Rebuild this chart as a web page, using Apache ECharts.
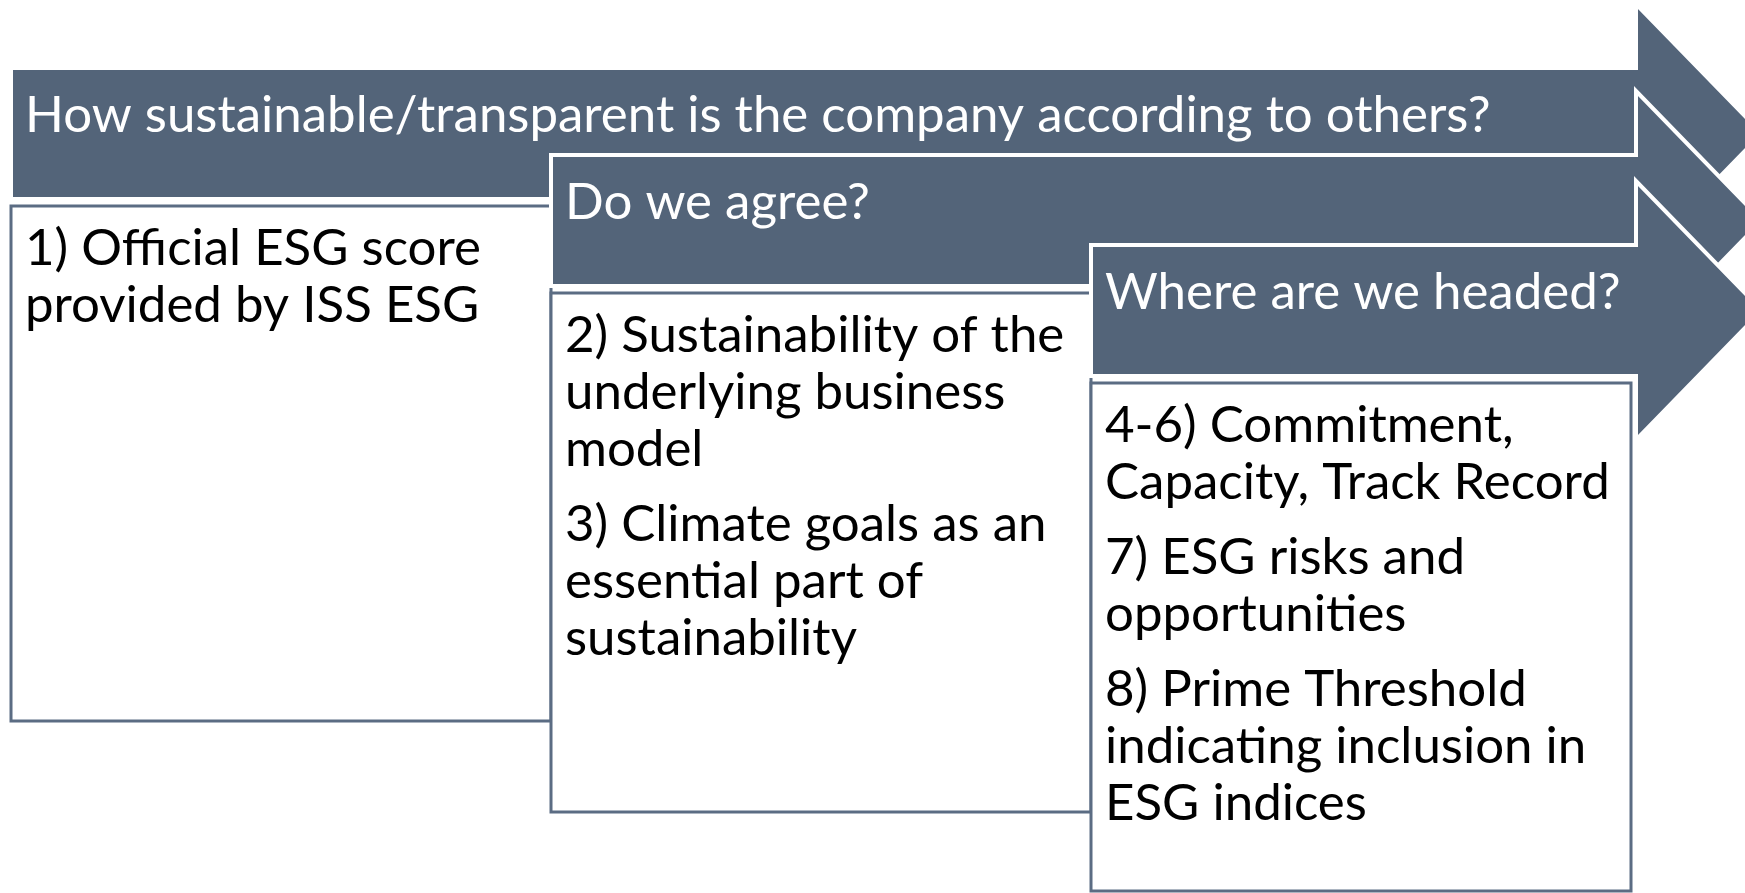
<!DOCTYPE html>
<html>
<head>
<meta charset="utf-8">
<script src="https://cdn.jsdelivr.net/npm/echarts@6/dist/echarts.min.js"></script>
<style>
    html, body { margin: 0; padding: 0; background: #fff; }
    #chart { width: 1745px; height: 893px; }
</style>
</head>
<body>
<div id="chart"></div>
<script>
// Three overlapping stage arrows, each with a box of questions below it.
var stageTitles = [
    'How sustainable/transparent is the company according to others?',
    'Do we agree?',
    'Where are we headed?'
];
var stageItems = [
    [['1) Official ESG score', 'provided by ISS ESG']],
    [['2) Sustainability of the', 'underlying business', 'model'],
     ['3) Climate goals as an', 'essential part of', 'sustainability']],
    [['4-6) Commitment,', 'Capacity, Track Record'],
     ['7) ESG risks and', 'opportunities'],
     ['8) Prime Threshold', 'indicating inclusion in', 'ESG indices']]
];

// layout (pixel units of the hidden axes)
var W = 1745, H = 893;
var STAGE_LEFT = 11, STAGE_STEP = 540;
var ARROW_TOP = [68, 155, 245];
var ARROW_H = 131;
var HEAD_X = 1636, TIP_X = 1762, HEAD_OVER = 64;
var BOX_GAP = 7;
var BOX_BOTTOM = [721, 812, 891];
var PAD_X = 14;
var LINE_H = 57, PARA_GAP = 18, FIRST_LINE = 43;
var FILL = '#536479';
var FONT = 'Lato, "Noto Sans", sans-serif';
var FONT_SIZE = 51;

function renderItem(params, api) {
    var i = api.value(0);
    var left = STAGE_LEFT + i * STAGE_STEP;
    var top = ARROW_TOP[i];
    var bot = top + ARROW_H;
    var mid = (top + bot) / 2;
    var pts = [
        [left, top], [HEAD_X, top], [HEAD_X, top - HEAD_OVER], [TIP_X, mid],
        [HEAD_X, bot + HEAD_OVER], [HEAD_X, bot], [left, bot]
    ];
    var points = [];
    for (var k = 0; k < pts.length; k++) points.push(api.coord(pts[k]));

    var children = [];
    children.push({
        type: 'polygon',
        shape: { points: points },
        style: { fill: FILL, stroke: '#ffffff', lineWidth: 4, lineJoin: 'miter' }
    });
    var tp = api.coord([left + PAD_X, top + 48]);
    children.push({
        type: 'text',
        style: {
            x: tp[0], y: tp[1], text: stageTitles[i], fill: '#ffffff',
            fontSize: FONT_SIZE, fontFamily: FONT, align: 'left', verticalAlign: 'middle'
        }
    });

    var boxTop = bot + BOX_GAP;
    var right = i < stageTitles.length - 1 ? left + STAGE_STEP : 1631;
    var b0 = api.coord([left, boxTop]);
    var b1 = api.coord([right, BOX_BOTTOM[i]]);
    children.push({
        type: 'rect',
        shape: { x: b0[0], y: b0[1], width: b1[0] - b0[0], height: b1[1] - b0[1] },
        style: { fill: '#ffffff', stroke: '#5b6c83', lineWidth: 3 }
    });

    var y = boxTop + FIRST_LINE;
    var items = stageItems[i];
    for (var p = 0; p < items.length; p++) {
        for (var l = 0; l < items[p].length; l++) {
            var lp = api.coord([left + PAD_X, y]);
            children.push({
                type: 'text',
                style: {
                    x: lp[0], y: lp[1], text: items[p][l], fill: '#000000',
                    fontSize: FONT_SIZE, fontFamily: FONT, align: 'left', verticalAlign: 'middle'
                }
            });
            y += LINE_H;
        }
        y += PARA_GAP;
    }
    return { type: 'group', children: children };
}

var data = [];
for (var s = 0; s < stageTitles.length; s++) data.push([s]);

var chart = echarts.init(document.getElementById('chart'));
chart.setOption({
    animation: false,
    grid: { left: 0, right: 0, top: 0, bottom: 0 },
    xAxis: { type: 'value', min: 0, max: W, show: false },
    yAxis: { type: 'value', min: 0, max: H, inverse: true, show: false },
    series: [{
        type: 'custom',
        renderItem: renderItem,
        clip: false,
        data: data
    }]
});
</script>
</body>
</html>
